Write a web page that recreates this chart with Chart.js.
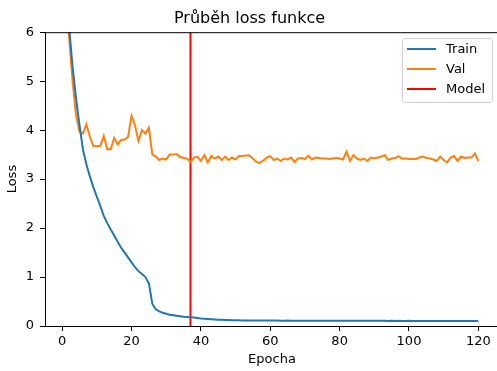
<!DOCTYPE html>
<html>
<head>
<meta charset="utf-8">
<script src="https://cdn.jsdelivr.net/npm/chart.js@4"></script>
<style>
  body { margin: 0; overflow: hidden; background: #fff; }
  #wrap { width: 503px; height: 371px; }
</style>
</head>
<body>
<div id="wrap"><canvas id="lossChart" width="503" height="371"></canvas></div>
<script>
// epochs 1..120
const epochs = Array.from({ length: 120 }, (_, i) => i + 1);

const trainLoss = [
  8.0, 6.1, 5.3, 4.65, 4.1, 3.6, 3.3, 3.05, 2.83, 2.64,
  2.45, 2.25, 2.1, 1.97, 1.85, 1.72, 1.6, 1.5, 1.4, 1.3,
  1.2, 1.12, 1.06, 1.0, 0.87, 0.45, 0.34, 0.3, 0.27, 0.25,
  0.23, 0.22, 0.21, 0.2, 0.19, 0.185, 0.18, 0.172, 0.165, 0.155,
  0.15, 0.145, 0.14, 0.135, 0.13, 0.127, 0.124, 0.121, 0.118, 0.116,
  0.115, 0.114, 0.113, 0.113, 0.112, 0.112, 0.111, 0.111, 0.110, 0.110,
  0.111, 0.110, 0.109, 0.109, 0.110, 0.109, 0.108, 0.108, 0.109, 0.108,
  0.108, 0.107, 0.108, 0.107, 0.107, 0.108, 0.107, 0.106, 0.107, 0.106,
  0.107, 0.106, 0.106, 0.107, 0.106, 0.105, 0.106, 0.105, 0.106, 0.105,
  0.105, 0.106, 0.105, 0.104, 0.105, 0.104, 0.105, 0.104, 0.104, 0.105,
  0.104, 0.104, 0.103, 0.104, 0.103, 0.104, 0.103, 0.103, 0.104, 0.103,
  0.103, 0.102, 0.103, 0.102, 0.103, 0.102, 0.102, 0.103, 0.102, 0.103
];

const valLoss = [
  7.0, 5.9, 5.0, 4.3, 3.97, 3.93, 4.12, 3.86, 3.67, 3.67,
  3.68, 3.88, 3.61, 3.61, 3.84, 3.71, 3.80, 3.81, 3.86, 4.29,
  4.10, 3.78, 4.00, 3.93, 4.05, 3.50, 3.46, 3.39, 3.42, 3.40,
  3.50, 3.50, 3.51, 3.45, 3.43, 3.42, 3.35, 3.44, 3.46, 3.37,
  3.49, 3.34, 3.47, 3.42, 3.46, 3.39, 3.46, 3.39, 3.44, 3.40,
  3.47, 3.47, 3.48, 3.48, 3.42, 3.35, 3.33, 3.38, 3.44, 3.47,
  3.39, 3.42, 3.37, 3.42, 3.40, 3.44, 3.35, 3.42, 3.43, 3.41,
  3.48, 3.40, 3.44, 3.43, 3.42, 3.42, 3.41, 3.42, 3.43, 3.42,
  3.40, 3.56, 3.37, 3.49, 3.42, 3.39, 3.42, 3.37, 3.44, 3.42,
  3.44, 3.46, 3.49, 3.39, 3.42, 3.43, 3.47, 3.42, 3.42, 3.41,
  3.41, 3.41, 3.44, 3.46, 3.43, 3.42, 3.40, 3.37, 3.46, 3.39,
  3.34, 3.44, 3.47, 3.37, 3.46, 3.43, 3.44, 3.44, 3.52, 3.37
];

const modelEpoch = 37;
const xTicks = [0, 20, 40, 60, 80, 100, 120];
const yTicks = [0, 1, 2, 3, 4, 5, 6];

const FONT = "'DejaVu Sans', sans-serif";
Chart.defaults.font.family = FONT;
Chart.defaults.color = '#000';

// top/right spines
const framePlugin = {
  id: 'frame',
  afterDatasetsDraw(chart) {
    const { ctx, chartArea: a } = chart;
    ctx.save();
    ctx.strokeStyle = '#000';
    ctx.lineWidth = 1;
    ctx.strokeRect(a.left + 0.5, a.top + 0.5, a.right - a.left, a.bottom - a.top);
    ctx.restore();
  }
};

// matplotlib-like legend in the upper right corner
const boxLegend = {
  id: 'boxLegend',
  afterDraw(chart) {
    const ctx = chart.ctx;
    const x0 = 402, y0 = 38, w = 90, h = 64, r = 3;
    ctx.save();
    ctx.beginPath();
    ctx.roundRect(x0 + 0.5, y0 + 0.5, w, h, r);
    ctx.fillStyle = 'rgba(255,255,255,0.8)';
    ctx.fill();
    ctx.strokeStyle = '#d0d0d0';
    ctx.lineWidth = 1;
    ctx.stroke();
    ctx.font = '13px ' + FONT;
    ctx.textBaseline = 'middle';
    ctx.textAlign = 'left';
    chart.data.datasets.forEach((ds, i) => {
      const y = 49 + i * 20;
      ctx.beginPath();
      ctx.moveTo(407, y);
      ctx.lineTo(436, y);
      ctx.strokeStyle = ds.borderColor;
      ctx.lineWidth = 2;
      ctx.stroke();
      ctx.fillStyle = '#000';
      ctx.fillText(ds.label, 446, y + 1);
    });
    ctx.restore();
  }
};

new Chart(document.getElementById('lossChart'), {
  type: 'line',
  data: {
    datasets: [
      {
        label: 'Train',
        data: epochs.map((e, i) => ({ x: e, y: trainLoss[i] })),
        borderColor: '#1f77b4',
        borderWidth: 2,
        pointRadius: 0,
        clip: 0
      },
      {
        label: 'Val',
        data: epochs.map((e, i) => ({ x: e, y: valLoss[i] })),
        borderColor: '#ff7f0e',
        borderWidth: 2,
        pointRadius: 0,
        clip: 0
      },
      {
        label: 'Model',
        data: [{ x: modelEpoch, y: 0 }, { x: modelEpoch, y: 6 }],
        borderColor: '#ff0000',
        borderWidth: 2,
        pointRadius: 0,
        clip: 0
      }
    ]
  },
  options: {
    responsive: false,
    animation: false,
    layout: { padding: { left: 0, top: 0, right: 4, bottom: 0 } },
    plugins: {
      legend: { display: false },
      tooltip: { enabled: false },
      title: {
        display: true,
        text: 'Průběh loss funkce',
        color: '#000',
        font: { size: 16, weight: 'normal', family: FONT },
        padding: { top: 9, bottom: 4 }
      }
    },
    scales: {
      x: {
        type: 'linear',
        min: -4.95,
        max: 125.95,
        afterBuildTicks: s => { s.ticks = xTicks.map(v => ({ value: v })); },
        afterFit: s => { s.height = 45; },
        ticks: { font: { size: 13 }, padding: 3, maxRotation: 0 },
        grid: { drawOnChartArea: false, tickLength: 5, color: '#000' },
        border: { color: '#000', width: 1 },
        title: { display: true, text: 'Epocha', font: { size: 13 }, padding: { top: 0, bottom: 4 } }
      },
      y: {
        min: 0,
        max: 6,
        afterBuildTicks: s => { s.ticks = yTicks.map(v => ({ value: v })); },
        afterFit: s => { s.width = 45; },
        ticks: { font: { size: 13 }, padding: 6 },
        grid: { drawOnChartArea: false, tickLength: 5, color: '#000' },
        border: { color: '#000', width: 1 },
        title: { display: true, text: 'Loss', font: { size: 13 }, padding: { top: 5, bottom: 0 } }
      }
    }
  },
  plugins: [framePlugin, boxLegend]
});
</script>
</body>
</html>
